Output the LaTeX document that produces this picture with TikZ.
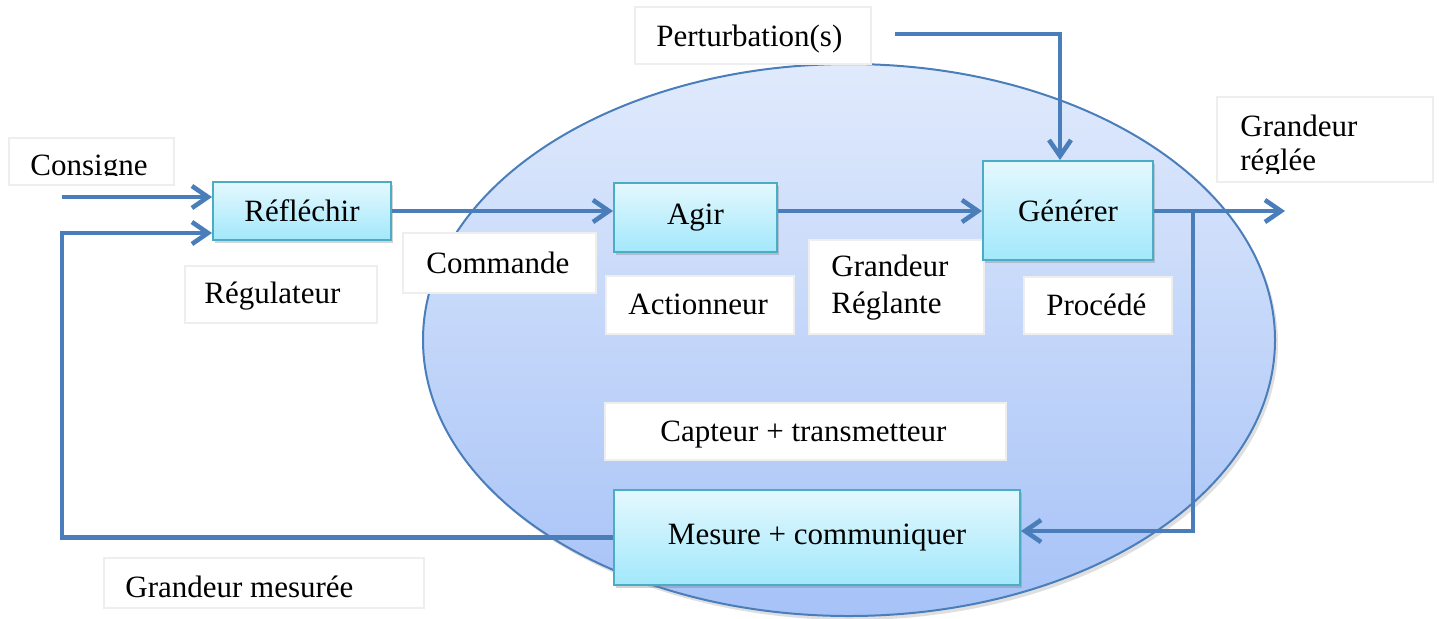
\documentclass[tikz,border=0pt]{standalone}
\usepackage{fontspec}
\setmainfont{Liberation Serif}
\usetikzlibrary{arrows.meta,shadows}

\definecolor{flowblue}{HTML}{4A7EBB}
\definecolor{boxedge}{HTML}{4BACC6}
\definecolor{boxtop}{HTML}{E4F8FE}
\definecolor{boxbot}{HTML}{A2E8FB}
\definecolor{elltop}{HTML}{E0EAFC}
\definecolor{ellbot}{HTML}{A6C2F7}
\definecolor{lbledge}{HTML}{EEEEEE}

\begin{document}
\begin{tikzpicture}[x=0.5pt,y=-0.5pt,
  font=\fontsize{15.5}{18}\selectfont,
  stage/.style={draw=boxedge, line width=1pt, top color=boxtop, bottom color=boxbot,
    drop shadow={opacity=0.35, shadow xshift=1pt, shadow yshift=-1.5pt}, inner sep=0pt},
  lbl/.style={draw=lbledge, line width=0.7pt, fill=white, inner sep=0pt},
  txt/.style={anchor=base west, inner sep=0pt},
  flow/.style={draw=flowblue, line width=2.3pt},
  arr/.style={flow, -{Straight Barb[length=8pt,width=11pt]}},
]
\useasboundingbox (0,0) rectangle (1439,618);

% process zone
\path[draw=flowblue, line width=1pt, top color=elltop, bottom color=ellbot,
  drop shadow={opacity=0.25, shadow xshift=1.5pt, shadow yshift=-2pt}]
  (849,340) ellipse [x radius=426, y radius=276];

% label frames
\node[lbl, minimum width=82.5pt, minimum height=23.5pt] (fconsigne) at (91.5,161.5) {};
\node[lbl, minimum width=118pt, minimum height=28.5pt] (fpert) at (753,35.5) {};
\node[lbl, minimum width=108pt, minimum height=42.5pt] (freglee) at (1325,139.5) {};
\node[lbl, minimum width=96pt, minimum height=28.5pt] (freg) at (281,294.5) {};
\node[lbl, minimum width=96.5pt, minimum height=30pt] (fcmd) at (499.5,263) {};
\node[lbl, minimum width=94pt, minimum height=29pt] (fact) at (700,305) {};
\node[lbl, minimum width=87.5pt, minimum height=47pt] (freglante) at (896.5,287) {};
\node[lbl, minimum width=74pt, minimum height=28.5pt] (fproc) at (1098,305.5) {};
\node[lbl, minimum width=200.5pt, minimum height=28.5pt] (fcapt) at (805.5,431.5) {};
\node[lbl, minimum width=160pt, minimum height=25pt] (fmes) at (264,583) {};

% label texts
\begin{scope}
  \clip (9,138) rectangle (174,175);
  \node[txt] (tconsigne) at (30,175) {Consigne};
\end{scope}
\begin{scope}
  \clip (1217,97) rectangle (1433,173);
  \node[txt] (treglee1) at (1240,136) {Grandeur};
  \node[txt] (treglee2) at (1240,170) {réglée};
\end{scope}
\node[txt] (tpert) at (656,46) {Perturbation(s)};
\node[txt] (treg) at (204,303) {Régulateur};
\node[txt] (tcmd) at (426,273) {Commande};
\node[txt] (tact) at (628,314) {Actionneur};
\node[txt] (treglante1) at (831,276) {Grandeur};
\node[txt] (treglante2) at (831,313) {Réglante};
\node[txt] (tproc) at (1046,315) {Procédé};
\node[txt] (tcapt) at (660,441) {Capteur + transmetteur};
\node[txt] (tmes) at (125,597) {Grandeur mesurée};

% function blocks
\node[stage, minimum width=89pt, minimum height=29pt] (refl) at (302,211) {Réfléchir};
\node[stage, minimum width=81.5pt, minimum height=34.5pt] (agir) at (695.5,217.5) {Agir};
\node[stage, minimum width=85pt, minimum height=49.5pt] (gen) at (1068,210.5) {Générer};
\node[stage, minimum width=203pt, minimum height=47.5pt] (mesure) at (817,537.5) {Mesure + communiquer};

% connector end points
\coordinate (cin) at (62,197);
\coordinate (fbk) at (62,233);
\coordinate (out) at (1285,211);
\coordinate (br) at (1193,211);
\coordinate (brd) at (1193,531);
\coordinate (pin) at (895,34);
\coordinate (pc) at (1060,34);

% signal flow
\draw[arr] (cin) -- (cin -| refl.west);
\draw[arr] (mesure.west) -| (fbk) -- (fbk -| refl.west);
\draw[arr] (refl.east) -- (refl.east -| agir.west);
\draw[arr] (agir.east |- refl.east) -- (refl.east -| gen.west);
\draw[arr] (gen.east |- out) -- (out);
\draw[arr] (br) -- (brd) -- (brd -| mesure.east);
\draw[arr] (pin) -- (pc) -- (pc |- gen.north);
\end{tikzpicture}
\end{document}
